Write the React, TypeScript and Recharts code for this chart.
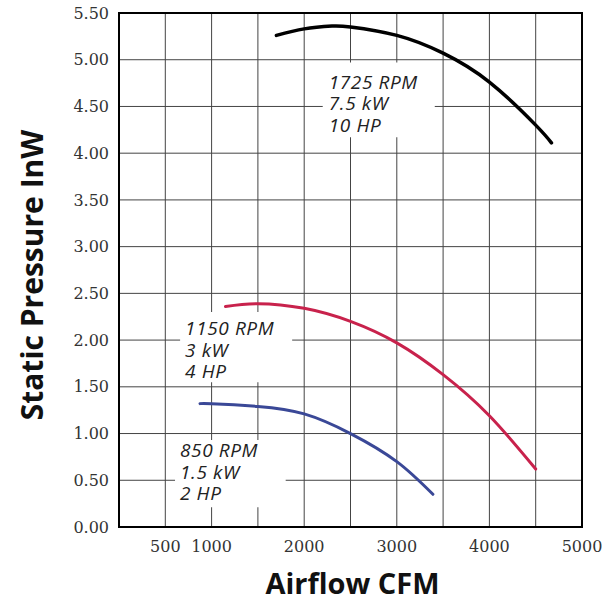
import { CartesianGrid, Label, Line, LineChart, ReferenceArea, XAxis, YAxis } from "recharts";

// fan curves (CFM vs. inches of water)
const rpm1725 = [
  { cfm: 1700, p: 5.26 },
  { cfm: 2000, p: 5.33 },
  { cfm: 2300, p: 5.36 },
  { cfm: 2500, p: 5.35 },
  { cfm: 3000, p: 5.26 },
  { cfm: 3500, p: 5.07 },
  { cfm: 4000, p: 4.76 },
  { cfm: 4500, p: 4.3 },
  { cfm: 4670, p: 4.11 },
];

const rpm1150 = [
  { cfm: 1150, p: 2.36 },
  { cfm: 1500, p: 2.39 },
  { cfm: 2000, p: 2.34 },
  { cfm: 2500, p: 2.2 },
  { cfm: 3000, p: 1.97 },
  { cfm: 3500, p: 1.63 },
  { cfm: 4000, p: 1.19 },
  { cfm: 4500, p: 0.62 },
];

const rpm850 = [
  { cfm: 875, p: 1.32 },
  { cfm: 1000, p: 1.32 },
  { cfm: 1500, p: 1.29 },
  { cfm: 2000, p: 1.21 },
  { cfm: 2500, p: 1.0 },
  { cfm: 3000, p: 0.7 },
  { cfm: 3390, p: 0.35 },
];

const xTicks = [0, 500, 1000, 1500, 2000, 2500, 3000, 3500, 4000, 4500, 5000];
const xLabelled = [500, 1000, 2000, 3000, 4000, 5000];
const yTicks = [0, 0.5, 1, 1.5, 2, 2.5, 3, 3.5, 4, 4.5, 5, 5.5];

const notes1725 = ["1725 RPM", "7.5 kW", "10 HP"];
const notes1150 = ["1150 RPM", "3 kW", "4 HP"];
const notes850 = ["850 RPM", "1.5 kW", "2 HP"];

// white boxes behind the curve notes (data units) and text offsets in px
const boxes = [
  { lines: notes1725, x1: 2200, x2: 3410, y1: 4.17, y2: 4.97, dx: 6, dy: 26 },
  { lines: notes1150, x1: 660, x2: 1870, y1: 1.55, y2: 2.3, dx: 5, dy: 23 },
  { lines: notes850, x1: 605, x2: 1800, y1: 0.21, y2: 0.93, dx: 5, dy: 17 },
];

const noteFont = "'Open Sans', Lato, sans-serif";
const titleFont = "'Open Sans', Lato, sans-serif";
const tickFont = "'DejaVu Serif', serif";

function noteLabel(lines: string[], dx: number, dy: number) {
  return (props: any) => {
    const vb = props.viewBox || {};
    return (
      <g>
        {lines.map((t, i) => (
          <text
            key={t}
            x={vb.x + dx}
            y={vb.y + dy + i * 21.5}
            fontFamily={noteFont}
            fontStyle="italic"
            fontSize={19}
            letterSpacing={0.6}
            fill="#222"
          >
            {t}
          </text>
        ))}
      </g>
    );
  };
}

export default function App() {
  return (
    <div style={{ width: 616, height: 604, background: "#fff" }}>
      <style>{"body{margin:0}"}</style>
      <LineChart width={616} height={604} margin={{ top: 13, right: 34, bottom: 0, left: 0 }}>
        <CartesianGrid stroke="#444" strokeWidth={1} horizontalValues={yTicks} verticalValues={xTicks} />
        <XAxis
          type="number"
          dataKey="cfm"
          domain={[0, 5000]}
          ticks={xTicks}
          interval={0}
          height={77}
          axisLine={false}
          tickLine={false}
          tickMargin={8}
          tickFormatter={(v: number) => (xLabelled.includes(v) ? String(v) : "")}
          tick={{ fill: "#333", fontSize: 16, fontFamily: tickFont }}
        >
          <Label
            content={(props: any) => {
              const vb = props.viewBox || {};
              return (
                <text
                  x={vb.x + vb.width / 2 + 2}
                  y={594}
                  textAnchor="middle"
                  fontFamily={titleFont}
                  fontWeight="bold"
                  fontSize={29}
                  fill="#111"
                >
                  Airflow CFM
                </text>
              );
            }}
          />
        </XAxis>
        <YAxis
          type="number"
          domain={[0, 5.5]}
          ticks={yTicks}
          interval={0}
          width={119}
          axisLine={false}
          tickLine={false}
          tickMargin={4}
          tickFormatter={(v: number) => v.toFixed(2)}
          tick={{ fill: "#333", fontSize: 16, fontFamily: tickFont }}
        >
          <Label
            content={(props: any) => {
              const vb = props.viewBox || {};
              const cy = vb.y + vb.height / 2 + 5;
              return (
                <text
                  x={31}
                  y={cy}
                  transform={`rotate(-90 31 ${cy})`}
                  textAnchor="middle"
                  dominantBaseline="central"
                  fontFamily={titleFont}
                  fontWeight="bold"
                  fontSize={30}
                  fill="#111"
                >
                  Static Pressure InW
                </text>
              );
            }}
          />
        </YAxis>
        {boxes.map((b) => (
          <ReferenceArea
            key={b.lines[0]}
            x1={b.x1}
            x2={b.x2}
            y1={b.y1}
            y2={b.y2}
            fill="#fff"
            fillOpacity={1}
            stroke="none"
            label={noteLabel(b.lines, b.dx, b.dy)}
          />
        ))}
        <ReferenceArea x1={0} x2={5000} y1={0} y2={5.5} fill="none" stroke="#000" strokeWidth={2} />
        <Line
          data={rpm1725}
          dataKey="p"
          type="natural"
          stroke="#000"
          strokeWidth={3.5}
          strokeLinecap="round"
          dot={false}
          activeDot={false}
          isAnimationActive={false}
        />
        <Line
          data={rpm1150}
          dataKey="p"
          type="natural"
          stroke="#c8224c"
          strokeWidth={3}
          strokeLinecap="round"
          dot={false}
          activeDot={false}
          isAnimationActive={false}
        />
        <Line
          data={rpm850}
          dataKey="p"
          type="natural"
          stroke="#3a4897"
          strokeWidth={3}
          strokeLinecap="round"
          dot={false}
          activeDot={false}
          isAnimationActive={false}
        />
      </LineChart>
    </div>
  );
}
